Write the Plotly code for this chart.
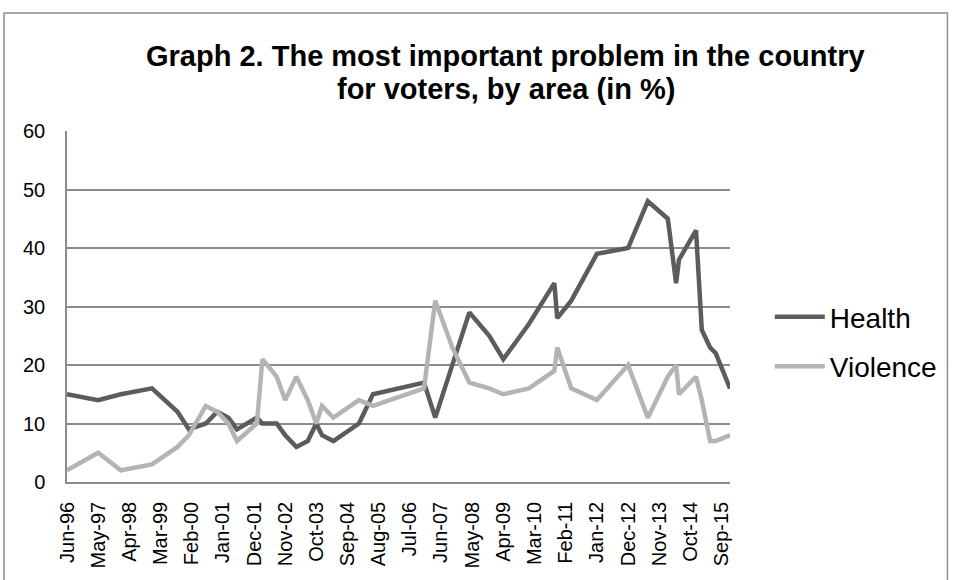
import plotly.graph_objects as go
import pandas as pd

dates = ["1996-06", "1997-05", "1998-01", "1998-12", "1999-09", "2000-01", "2000-07", "2000-11",
         "2001-03", "2001-06", "2002-01", "2002-03", "2002-08", "2002-11", "2003-03", "2003-07",
         "2003-10", "2003-12", "2004-04", "2005-01", "2005-06", "2006-12", "2007-04", "2007-10",
         "2008-04", "2008-11", "2009-04", "2010-01", "2010-10", "2010-11", "2011-04", "2012-01",
         "2012-12", "2013-07", "2014-02", "2014-05", "2014-06", "2014-12", "2015-02", "2015-05",
         "2015-07", "2015-12"]
health = [15, 14, 15, 16, 12, 9, 10, 12, 11, 9, 11, 10, 10, 8, 6, 7, 10, 8, 7, 10, 15, 17, 11, 20,
          29, 25, 21, 27, 34, 28, 31, 39, 40, 48, 45, 34, 38, 43, 26, 23, 22, 16]
violence = [2, 5, 2, 3, 6, 8, 13, 12, 10, 7, 10, 21, 18, 14, 18, 14, 10, 13, 11, 14, 13, 16, 31, 23,
            17, 16, 15, 16, 19, 23, 16, 14, 20, 11, 18, 20, 15, 18, 14, 7, 7, 8]
series_names = ["Health", "Violence"]
tick_dates = pd.date_range(start="1996-06-01", periods=22, freq="11MS")
tick_labels = [d.strftime("%b-%y") for d in tick_dates]
title_lines = ["Graph 2. The most important problem in the country", "for voters, by area (in %)"]

x = pd.to_datetime(dates)
FONT = "Liberation Sans, Arial, sans-serif"

fig = go.Figure()
fig.add_trace(go.Scatter(x=x, y=health, mode="lines", name=series_names[0],
                         line=dict(color="#5c5c5c", width=4.5), legendgroup="a"))
fig.add_trace(go.Scatter(x=x, y=violence, mode="lines", name=series_names[1],
                         line=dict(color="#b4b4b4", width=4.5), legendgroup="b"))

fig.update_layout(
    width=955, height=580,
    margin=dict(l=67, r=225, t=131, b=95),
    paper_bgcolor="white", plot_bgcolor="white",
    font=dict(family=FONT, color="black"),
    showlegend=True,
    legend=dict(x=1.06, y=0.40, xanchor="left", yanchor="middle",
                font=dict(size=28, family=FONT, color="black"),
                tracegroupgap=10, itemwidth=50, bgcolor="rgba(0,0,0,0)"),
    xaxis=dict(type="date", range=["1996-06-01", "2015-12-01"],
               tickvals=tick_dates, ticktext=tick_labels, tickangle=-90,
               tickfont=dict(size=20, family=FONT, color="black"),
               showgrid=False, showline=True, linecolor="#8c8c8c", linewidth=1.5,
               ticks="outside", ticklen=10, tickcolor="rgba(0,0,0,0)", zeroline=False),
    yaxis=dict(range=[0, 60], tickvals=[0, 10, 20, 30, 40, 50, 60],
               tickfont=dict(size=20, family=FONT, color="black"),
               showgrid=True, gridcolor="#8c8c8c", gridwidth=1.5,
               showline=True, linecolor="#8c8c8c", linewidth=1.5,
               ticks="outside", ticklen=16, tickcolor="rgba(0,0,0,0)", zeroline=False),
)

fig.add_annotation(text="<b>" + title_lines[0] + "</b>", xref="paper", yref="paper",
                   x=0.662, y=1.213, xanchor="center", yanchor="middle", showarrow=False,
                   font=dict(size=29, family=FONT, color="black"))
fig.add_annotation(text="<b>" + title_lines[1] + "</b>", xref="paper", yref="paper",
                   x=0.662, y=1.12, xanchor="center", yanchor="middle", showarrow=False,
                   font=dict(size=29, family=FONT, color="black"))

fig.add_shape(type="rect", xref="paper", yref="paper",
              x0=-0.0950, x1=1.3280, y0=-0.30, y1=1.3362,
              line=dict(color="#8c8c8c", width=1.5), fillcolor="rgba(0,0,0,0)", layer="below")

fig.write_html("out.html")
